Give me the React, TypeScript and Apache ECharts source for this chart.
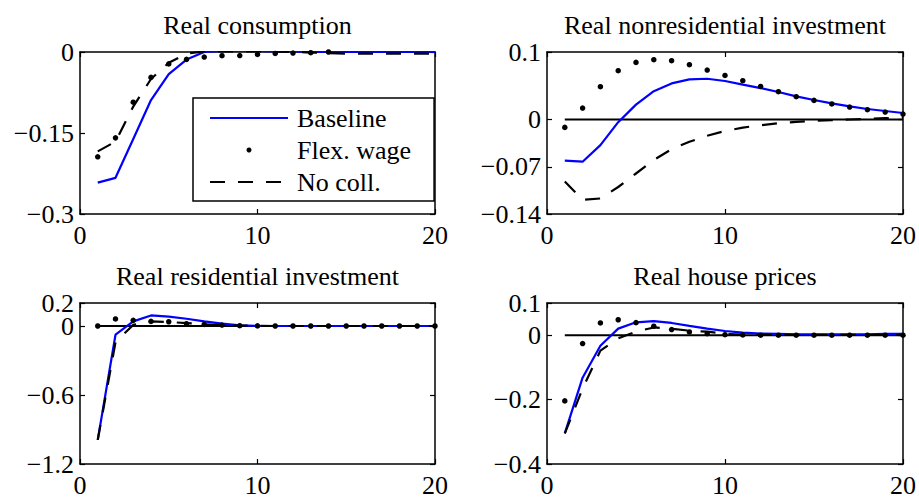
import React, { useEffect, useRef } from 'react';
import * as echarts from 'echarts';

// Quarters after the shock
const periods = [1, 2, 3, 4, 5, 6, 7, 8, 9, 10, 11, 12, 13, 14, 15, 16, 17, 18, 19, 20];

const panelTitles = [
  'Real consumption',
  'Real nonresidential investment',
  'Real residential investment',
  'Real house prices',
];

const yMins = [-0.3, -0.14, -1.2, -0.4];
const yMaxs = [0, 0.1, 0.2, 0.1];
const yTickValues = [
  [0, -0.15, -0.3],
  [0.1, 0, -0.07, -0.14],
  [0.2, 0, -0.6, -1.2],
  [0.1, 0, -0.2, -0.4],
];
const xTickValues = [0, 10, 20];

// Real consumption
const consBaseline = [-0.242, -0.233, -0.161, -0.089, -0.041, -0.014, 0.0, 0.002, 0.002, 0.002, 0.001, 0.001, 0, 0, 0, 0, 0, 0, 0, 0];
const consFlexWage = [-0.194, -0.159, -0.093, -0.047, -0.022, -0.0137, -0.0093, -0.0069, -0.0065, -0.0044, -0.0026, -0.0019, -0.0013, 0, 0.001, 0.001, 0.002, 0.002, 0.002, 0.002];
const consNoColl = [-0.184, -0.166, -0.101, -0.05, -0.02, -0.003, 0.001, 0.001, 0.001, 0.001, 0.0005, 0, -0.001, -0.002, -0.003, -0.003, -0.003, -0.003, -0.003, -0.003];

// Real nonresidential investment
const nonresBaseline = [-0.061, -0.0625, -0.038, -0.004, 0.022, 0.042, 0.0535, 0.0594, 0.0604, 0.057, 0.0516, 0.0466, 0.0407, 0.0342, 0.0289, 0.0239, 0.0194, 0.0156, 0.0126, 0.0096];
const nonresFlexWage = [-0.0117, 0.017, 0.0486, 0.0723, 0.0846, 0.0886, 0.0871, 0.0812, 0.0733, 0.0653, 0.0575, 0.049, 0.0412, 0.0338, 0.0283, 0.023, 0.0185, 0.0145, 0.0111, 0.0081];
const nonresNoColl = [-0.092, -0.119, -0.117, -0.1, -0.08, -0.06, -0.044, -0.033, -0.024, -0.017, -0.012, -0.0085, -0.0055, -0.0035, -0.002, -0.001, 0, 0.001, 0.002, 0.003];

// Real residential investment
const resBaseline = [-0.99, -0.076, 0.04, 0.092, 0.081, 0.063, 0.04, 0.02, 0.005, 0.001, 0, 0, 0, 0, 0, 0, 0, 0, 0, 0];
const resFlexWage = [0, 0.061, 0.049, 0.04, 0.037, 0.02, 0.014, 0.008, 0.003, 0.001, 0, 0, 0, 0, 0, 0, 0, 0, 0, 0];
const resNoColl = [-0.99, -0.14, 0.01, 0.04, 0.035, 0.025, 0.015, 0.008, 0.004, 0.002, 0, 0, 0, 0, 0, 0, 0, 0, 0, 0];

// Real house prices
const houseBaseline = [-0.305, -0.132, -0.033, 0.0205, 0.04, 0.044, 0.038, 0.029, 0.0205, 0.013, 0.008, 0.005, 0.004, 0.003, 0.003, 0.003, 0.003, 0.003, 0.004, 0.004];
const houseFlexWage = [-0.204, -0.026, 0.038, 0.048, 0.039, 0.028, 0.0175, 0.01, 0.0046, 0.0015, 0.001, 0, 0, 0, 0, 0, 0, 0, 0, 0];
const houseNoColl = [-0.305, -0.166, -0.048, -0.01, 0.011, 0.024, 0.02, 0.014, 0.011, 0.004, 0.002, 0.001, 0.001, 0.001, 0.001, 0.001, 0.001, 0.001, 0.001, 0.001];

const zeroLine = [0, 0, 0, 0, 0, 0, 0, 0, 0, 0, 0, 0, 0, 0, 0, 0, 0, 0, 0, 0];

const panelSeries = [
  [consBaseline, consFlexWage, consNoColl],
  [nonresBaseline, nonresFlexWage, nonresNoColl],
  [resBaseline, resFlexWage, resNoColl],
  [houseBaseline, houseFlexWage, houseNoColl],
];
const showZeroLine = [false, true, true, true];

const FONT = '"Liberation Serif", "Times New Roman", serif';
const FONT_SIZE = 26;

const gridBoxes = [
  { left: 80, top: 52, width: 355, height: 162 },
  { left: 547, top: 52, width: 356, height: 162 },
  { left: 80, top: 303, width: 355, height: 161 },
  { left: 547, top: 303, width: 356, height: 161 },
];

const fmtTick = (v: number) => {
  if (Math.abs(v) < 1e-12) return '0';
  const s = parseFloat(Math.abs(v).toFixed(4)).toString();
  return (v < 0 ? '\u2212' : '') + s;
};

const pairs = (ys: number[]) => periods.map((t, i) => [t, ys[i]]);

function buildOption() {
  const axisLine = { show: true, onZero: false, lineStyle: { color: '#000', width: 1.5 } };
  const tick = { show: true, inside: true, length: 5, lineStyle: { color: '#000', width: 1.2 } };
  const labelText = { fontFamily: FONT, fontSize: FONT_SIZE, color: '#000' };

  const grid: any[] = [];
  const xAxis: any[] = [];
  const yAxis: any[] = [];
  const series: any[] = [];

  gridBoxes.forEach((box, p) => {
    grid.push({ ...box, show: false, containLabel: false, outerBoundsMode: 'none' });

    // bottom axis with labels
    xAxis.push({
      type: 'value', gridIndex: p, position: 'bottom', min: 0, max: 20, interval: 10,
      axisLine, splitLine: { show: false },
      axisTick: { ...tick, customValues: xTickValues },
      axisLabel: {
        ...labelText, margin: 8, customValues: xTickValues, formatter: fmtTick,
        showMinLabel: true, showMaxLabel: true,
      },
    });
    // top axis: box edge, ticks and panel title
    xAxis.push({
      type: 'value', gridIndex: p, position: 'top', min: 0, max: 20, interval: 10,
      name: panelTitles[p], nameLocation: 'middle', nameGap: 14,
      nameTextStyle: { ...labelText },
      axisLine, splitLine: { show: false },
      axisTick: { ...tick, customValues: xTickValues },
      axisLabel: { show: false },
    });

    // The top tick label sits on its own axis so that a close neighbour
    // (0.2 over 0) is never dropped by the overlap check.
    const [topTick, ...restTicks] = yTickValues[p];

    // left axis: box edge, all ticks, lower labels
    yAxis.push({
      type: 'value', gridIndex: p, position: 'left', min: yMins[p], max: yMaxs[p],
      axisLine, splitLine: { show: false },
      axisTick: { ...tick, customValues: yTickValues[p] },
      axisLabel: {
        ...labelText, lineHeight: 20, margin: 6, customValues: restTicks, formatter: fmtTick,
        showMinLabel: true, showMaxLabel: true,
      },
    });
    // right axis: box edge and ticks
    yAxis.push({
      type: 'value', gridIndex: p, position: 'right', min: yMins[p], max: yMaxs[p],
      axisLine, splitLine: { show: false },
      axisTick: { ...tick, customValues: yTickValues[p] },
      axisLabel: { show: false },
    });
    // left axis carrying only the top label
    yAxis.push({
      type: 'value', gridIndex: p, position: 'left', offset: 0, min: yMins[p], max: yMaxs[p],
      axisLine: { show: false }, axisTick: { show: false }, splitLine: { show: false },
      axisLabel: {
        ...labelText, lineHeight: 20, margin: 6, customValues: [topTick], formatter: fmtTick,
        showMinLabel: true, showMaxLabel: true,
      },
    });

    const xi = 2 * p;
    const yi = 3 * p;
    const [baseline, flex, noColl] = panelSeries[p];

    if (showZeroLine[p]) {
      series.push({
        type: 'line', name: 'zero', xAxisIndex: xi, yAxisIndex: yi,
        data: pairs(zeroLine), symbol: 'none', silent: true, z: 1,
        lineStyle: { color: '#000', width: 2 },
      });
    }
    series.push({
      type: 'line', name: 'Baseline', xAxisIndex: xi, yAxisIndex: yi,
      data: pairs(baseline), symbol: 'none', clip: true, z: 2,
      lineStyle: { color: '#0000ff', width: 2.2 }, itemStyle: { color: '#0000ff' },
    });
    series.push({
      type: 'scatter', name: 'Flex. wage', xAxisIndex: xi, yAxisIndex: yi,
      data: pairs(flex), symbol: 'circle', symbolSize: 5.5, clip: true, z: 4,
      itemStyle: { color: '#000', opacity: 1 },
    });
    series.push({
      type: 'line', name: 'No coll.', xAxisIndex: xi, yAxisIndex: yi,
      data: pairs(noColl), symbol: 'none', clip: true, z: 3,
      lineStyle: { color: '#000', width: 2.2, type: [15, 13] }, itemStyle: { color: '#000' },
    });
  });

  const noMarker = { color: 'rgba(0,0,0,0)', opacity: 0, borderWidth: 0 };

  return {
    animation: false,
    backgroundColor: '#fff',
    grid,
    xAxis,
    yAxis,
    legend: {
      data: [
        { name: 'Baseline', itemStyle: noMarker },
        { name: 'Flex. wage' },
        { name: 'No coll.', itemStyle: noMarker },
      ],
      orient: 'vertical',
      left: 193,
      top: 98,
      itemWidth: 78,
      itemHeight: 5,
      itemGap: 6,
      padding: [7, 23, 6, 16],
      borderColor: '#000',
      borderWidth: 1.5,
      borderRadius: 0,
      backgroundColor: '#fff',
      selectedMode: false,
      textStyle: { fontFamily: FONT, fontSize: FONT_SIZE, color: '#000', lineHeight: 26, padding: [0, 0, 0, 4] },
      z: 10,
    },
    series,
  };
}

export default function App() {
  const ref = useRef<HTMLDivElement>(null);
  useEffect(() => {
    if (!ref.current) return;
    const chart = echarts.init(ref.current, undefined, { renderer: 'svg' });
    chart.setOption(buildOption() as any);
    return () => chart.dispose();
  }, []);
  return (
    <div
      ref={ref}
      style={{ position: 'fixed', left: 0, top: 0, width: 919, height: 500, background: '#fff' }}
    />
  );
}
